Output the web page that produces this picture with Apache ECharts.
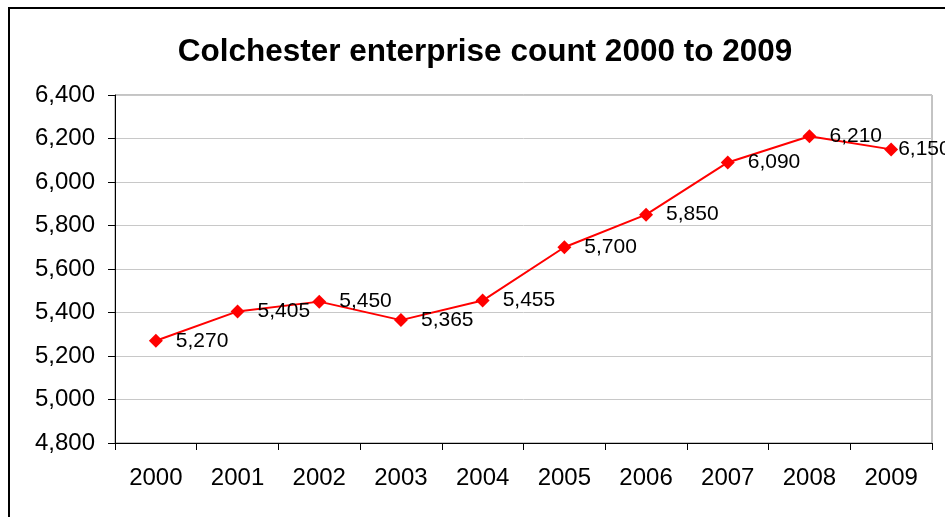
<!DOCTYPE html>
<html>
<head>
<meta charset="utf-8">
<script src="https://cdn.jsdelivr.net/npm/echarts@6/dist/echarts.min.js"></script>
<style>
html, body { margin: 0; padding: 0; background: #fff; overflow: hidden; }
#frame { position: absolute; left: 8px; top: 7px; width: 960px; height: 540px; border: 2px solid #000; box-sizing: border-box; }
#chart { position: absolute; left: 0; top: 0; width: 945px; height: 517px; }
</style>
</head>
<body>
<div id="frame"></div>
<div id="chart"></div>
<script>
(function () {

    // data
    var years = ['2000', '2001', '2002', '2003', '2004', '2005', '2006', '2007', '2008', '2009'];
    var counts = [5270, 5405, 5450, 5365, 5455, 5700, 5850, 6090, 6210, 6150];

    var fmt = function (v) { return echarts.format.addCommas(v); };

    var points = [];
    for (var i = 0; i < counts.length; i++) {
        var p = { value: counts[i] };
        // last label squeezed against the plot edge
        if (i === counts.length - 1) {
            p.label = { distance: 0 };
        }
        points.push(p);
    }

    var myChart = echarts.init(document.getElementById('chart'));

    var option = {
        animation: false,
        title: {
            text: 'Colchester enterprise count 2000 to 2009',
            left: 480,
            textAlign: 'center',
            top: 31,
            textStyle: {
                fontFamily: 'Liberation Sans, Arial',
                fontSize: 31.5,
                fontWeight: 'bold',
                color: '#000'
            }
        },
        grid: {
            left: 115,
            right: 13,
            top: 95,
            bottom: 74,
            show: true,
            borderColor: '#888',
            borderWidth: 1,
            backgroundColor: 'transparent'
        },
        xAxis: {
            type: 'category',
            data: years,
            boundaryGap: true,
            axisLine: { lineStyle: { color: '#000', width: 1 } },
            axisTick: { show: true, alignWithLabel: false, length: 7, inside: false, lineStyle: { color: '#000' } },
            axisLabel: {
                color: '#000',
                fontFamily: 'Liberation Sans, Arial',
                fontSize: 24,
                margin: 23
            },
            splitLine: { show: false }
        },
        yAxis: {
            type: 'value',
            min: 4800,
            max: 6400,
            interval: 200,
            axisLine: { show: true, lineStyle: { color: '#000', width: 1 } },
            axisTick: { show: true, length: 7, lineStyle: { color: '#000' } },
            axisLabel: {
                color: '#000',
                fontFamily: 'Liberation Sans, Arial',
                fontSize: 24,
                margin: 20,
                formatter: fmt
            },
            splitLine: { show: true, lineStyle: { color: '#c8c8c8', width: 1 } }
        },
        series: [{
            type: 'line',
            data: points,
            symbol: 'diamond',
            symbolSize: 14,
            lineStyle: { color: '#ff0000', width: 2 },
            itemStyle: { color: '#ff0000' },
            label: {
                show: true,
                position: 'right',
                distance: 13,
                color: '#000',
                fontFamily: 'Liberation Sans, Arial',
                fontSize: 21,
                formatter: function (p) { return fmt(p.value); }
            }
        }]
    };

    myChart.setOption(option);

})();
</script>
</body>
</html>
